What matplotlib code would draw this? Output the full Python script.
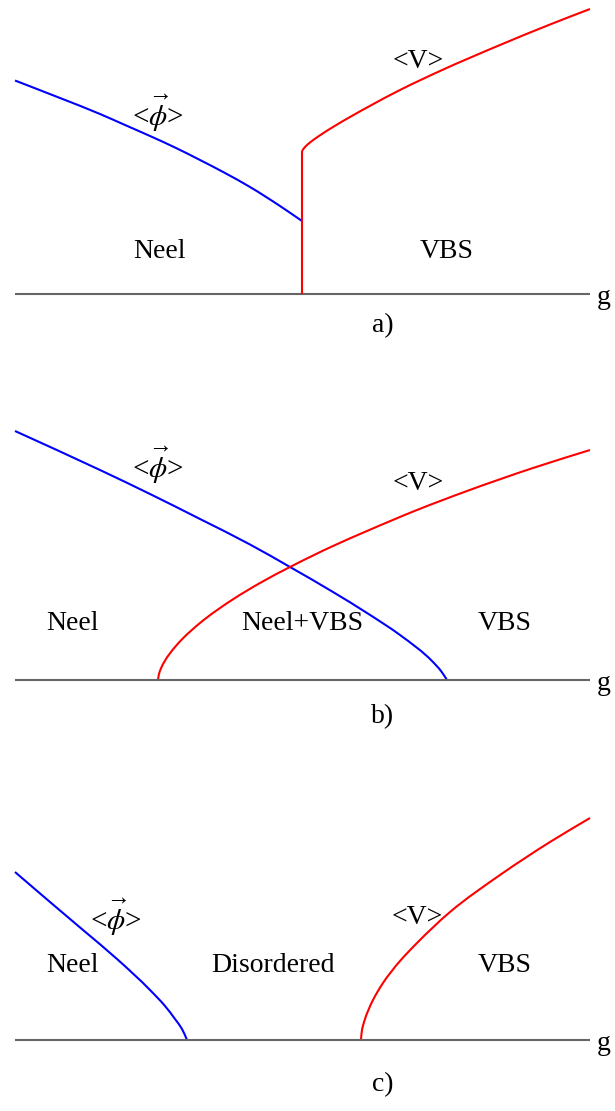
import numpy as np
import matplotlib
matplotlib.use('Agg')
import matplotlib.pyplot as plt
from matplotlib.path import Path
from matplotlib.patches import PathPatch

plt.rcParams['font.family'] = ['Liberation Serif', 'DejaVu Serif']
plt.rcParams['mathtext.fontset'] = 'stix'

# a) first order transition: Neel order jumps, VBS order jumps
ga_neel = [15, 60, 100, 125, 150, 175, 200, 225, 250, 280, 302]
ha_neel = [213.5, 196, 180, 169, 158, 146.5, 134, 121, 107, 88, 73]
ga_jump = [302, 302]
ha_jump = [0, 143]
ga_vbs = [302, 305, 310, 320, 333, 350, 367, 400, 440, 500, 550, 590]
ha_vbs = [143, 147, 151.5, 158.7, 167, 177, 186.5, 204, 223, 249, 269.5, 285]

# b) coexistence region
gb_neel = [15, 100, 150, 200, 250, 290, 333, 367, 400, 432, 441, 447]
hb_neel = [249, 210, 186, 161, 135.5, 113, 88, 67, 45, 19, 9, 0]
gb_vbs = [158, 159, 161, 165, 175, 183, 200, 233, 260, 290, 333, 367, 417, 467, 533, 590]
hb_vbs = [0, 6, 11.7, 19.4, 33, 41.7, 57, 80.7, 97, 113, 134, 149, 170, 189, 212, 230]

# c) disordered phase in between
gc_neel = [15, 50, 83, 117, 150, 165, 175, 182, 187]
hc_neel = [168, 138, 110, 81, 50, 34, 21, 11, 0]
gc_vbs = [361, 362, 365, 373, 383, 400, 417, 450, 500, 550, 590]
hc_vbs = [0, 10, 21, 40, 57, 79, 97, 128, 165, 198, 222]

W, H = 615, 1111
fs = 20
blue = '#0000ff'
red = '#ff0000'


def smooth_curve(ax, x, y, color):
    # cubic bezier through the points; tangents from the 3-point parabola
    # in chord-length parameter (handles uneven spacing)
    P = np.column_stack([x, y]).astype(float)
    h = np.hypot(*np.diff(P, axis=0).T)
    d = np.diff(P, axis=0) / h[:, None]
    n = len(P)
    m = np.zeros_like(P)
    m[0] = d[0]
    m[-1] = d[-1]
    for i in range(1, n - 1):
        m[i] = (h[i] * d[i - 1] + h[i - 1] * d[i]) / (h[i - 1] + h[i])
    verts = [P[0]]
    codes = [Path.MOVETO]
    for i in range(n - 1):
        verts += [P[i] + m[i] * h[i] / 3, P[i + 1] - m[i + 1] * h[i] / 3, P[i + 1]]
        codes += [Path.CURVE4] * 3
    ax.add_patch(PathPatch(Path(verts, codes), fill=False, edgecolor=color,
                           lw=1.5, capstyle='butt', joinstyle='round'))


def phi_label(ax, x, y):
    ax.text(x, y, '<$\\phi$>', fontsize=21, ha='center', va='center')
    ax.text(x + 2, y + 24, '\u2192', fontsize=17, ha='center', va='center')


fig = plt.figure(figsize=(W / 100, H / 100), dpi=100)

# (top px, bottom px, baseline px)
panels = [(0, 370, 294), (370, 740, 680), (740, 1111, 1040)]
axs = []
for top, bot, base in panels:
    ax = fig.add_axes([0, 1 - bot / H, 1, (bot - top) / H])
    ax.set_xlim(0, W)
    ax.set_ylim(base - bot, base - top)
    ax.axis('off')
    ax.plot([15, 590], [0, 0], color='#666666', lw=1.5, solid_capstyle='butt')
    ax.text(597, -4, 'g', fontsize=fs, ha='left', va='center')
    axs.append(ax)

ax = axs[0]
smooth_curve(ax, ga_neel, ha_neel, blue)
ax.plot(ga_jump, ha_jump, color=red, lw=1.5, solid_capstyle='butt')
smooth_curve(ax, ga_vbs, ha_vbs, red)
phi_label(ax, 158, 176)
ax.text(418, 233, '<V>', fontsize=fs, ha='center', va='center')
ax.text(159, 42, 'Neel', fontsize=fs, ha='center', va='center')
ax.text(447, 42, 'VBS', fontsize=fs, ha='center', va='center')
ax.text(383, -32, 'a)', fontsize=fs, ha='center', va='center')

ax = axs[1]
smooth_curve(ax, gb_neel, hb_neel, blue)
smooth_curve(ax, gb_vbs, hb_vbs, red)
phi_label(ax, 158, 210)
ax.text(418, 197, '<V>', fontsize=fs, ha='center', va='center')
ax.text(72, 57, 'Neel', fontsize=fs, ha='center', va='center')
ax.text(302, 57, 'Neel+VBS', fontsize=fs, ha='center', va='center')
ax.text(505, 57, 'VBS', fontsize=fs, ha='center', va='center')
ax.text(383, -37, 'b)', fontsize=fs, ha='center', va='center')

ax = axs[2]
smooth_curve(ax, gc_neel, hc_neel, blue)
smooth_curve(ax, gc_vbs, hc_vbs, red)
phi_label(ax, 116, 118)
ax.text(417, 123, '<V>', fontsize=fs, ha='center', va='center')
ax.text(72, 75, 'Neel', fontsize=fs, ha='center', va='center')
ax.text(273, 75, 'Disordered', fontsize=fs, ha='center', va='center')
ax.text(505, 75, 'VBS', fontsize=fs, ha='center', va='center')
ax.text(383, -45, 'c)', fontsize=fs, ha='center', va='center')

fig.savefig('out.png', dpi=100)
